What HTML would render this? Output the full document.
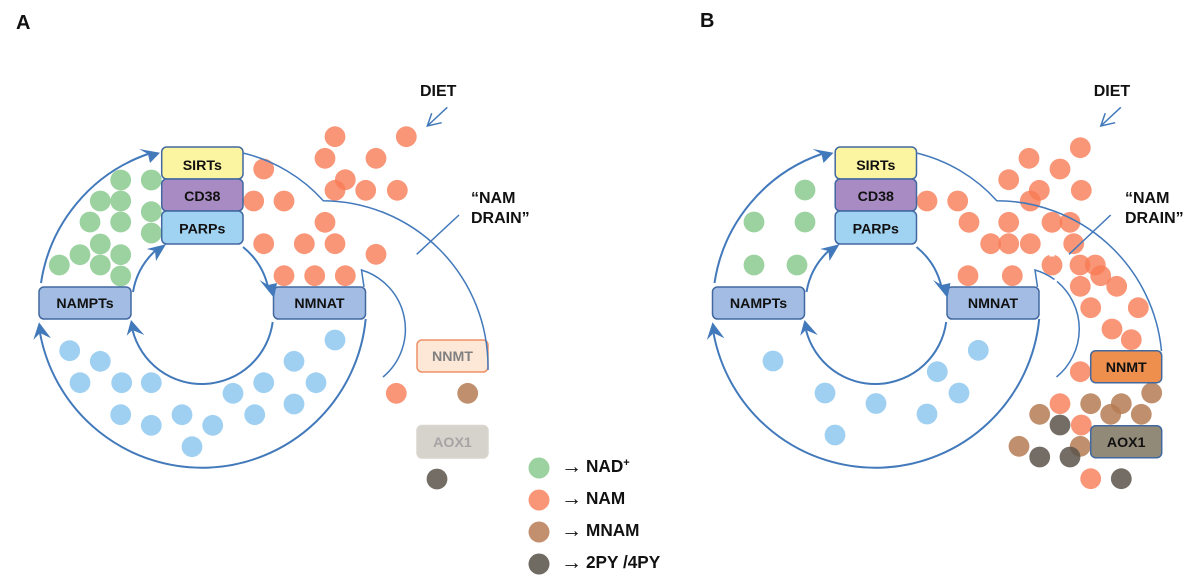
<!DOCTYPE html>
<html lang="en">
<head>
<meta charset="utf-8">
<title>NAM drain diagram</title>
<style>
html,body{margin:0;padding:0;background:#fff;}
svg{display:block;filter:blur(0.35px);}
text{font-family:"Liberation Sans",sans-serif;font-weight:bold;fill:#111;}
.box{font-size:14.2px;text-anchor:middle;}
.lbl{font-size:16px;}
.leg{font-size:17.2px;}
.arr{font-size:21px;}
.main{fill:none;stroke:#4279bb;stroke-width:2;}
.thin{fill:none;stroke:#4279bb;stroke-width:1.5;}
.head{fill:#4279bb;stroke:none;}
.rect{stroke:#41689f;stroke-width:1.5;}
.g circle{fill:#9bd2a0;}
.o circle{fill:#f87c55;opacity:.8;}
.b circle{fill:#9fd0f2;}
.m circle{fill:#b57d55;opacity:.85;}
.k circle{fill:#5a544a;opacity:.85;}
</style>
</head>
<body>
<svg width="1200" height="586" viewBox="0 0 1200 586" xmlns="http://www.w3.org/2000/svg">
<rect width="1200" height="586" fill="#fff"/>
<text x="16" y="29" style="font-size:20px">A</text>
<text x="700" y="27" style="font-size:20px">B</text>

<!-- PANEL A dots -->
<g class="g">
<circle cx="120.7" cy="180" r="10.4"/><circle cx="151.3" cy="180" r="10.4"/><circle cx="100.3" cy="201" r="10.4"/><circle cx="120.7" cy="201" r="10.4"/><circle cx="151.3" cy="211.7" r="10.4"/><circle cx="90" cy="222" r="10.4"/><circle cx="120.7" cy="222" r="10.4"/><circle cx="151.3" cy="233" r="10.4"/><circle cx="100.3" cy="244" r="10.4"/><circle cx="80" cy="254.7" r="10.4"/><circle cx="120.7" cy="254.7" r="10.4"/><circle cx="59.3" cy="265" r="10.4"/><circle cx="100.3" cy="265" r="10.4"/><circle cx="120.7" cy="276" r="10.4"/>
</g>
<g class="o">
<circle cx="335" cy="136.7" r="10.4"/><circle cx="406.3" cy="136.7" r="10.4"/><circle cx="325" cy="158.3" r="10.4"/><circle cx="376" cy="158.3" r="10.4"/><circle cx="345.3" cy="179.7" r="10.4"/><circle cx="335" cy="190.3" r="10.4"/><circle cx="365.7" cy="190.3" r="10.4"/><circle cx="397.3" cy="190.3" r="10.4"/><circle cx="263.7" cy="169" r="10.4"/><circle cx="253.7" cy="201" r="10.4"/><circle cx="284" cy="201" r="10.4"/><circle cx="325" cy="222.3" r="10.4"/><circle cx="263.7" cy="243.7" r="10.4"/><circle cx="304.3" cy="243.7" r="10.4"/><circle cx="335" cy="243.7" r="10.4"/><circle cx="376" cy="254.3" r="10.4"/><circle cx="284" cy="275.7" r="10.4"/><circle cx="314.7" cy="275.7" r="10.4"/><circle cx="345.3" cy="275.7" r="10.4"/><circle cx="396.3" cy="393.3" r="10.4"/>
</g>
<g class="b">
<circle cx="69.7" cy="350.7" r="10.4"/><circle cx="100.3" cy="361.3" r="10.4"/><circle cx="80" cy="382.7" r="10.4"/><circle cx="121.7" cy="382.7" r="10.4"/><circle cx="151.3" cy="382.7" r="10.4"/><circle cx="120.7" cy="414.7" r="10.4"/><circle cx="151.3" cy="425.3" r="10.4"/><circle cx="182" cy="414.7" r="10.4"/><circle cx="212.7" cy="425.3" r="10.4"/><circle cx="192" cy="446.7" r="10.4"/><circle cx="233" cy="393.3" r="10.4"/><circle cx="263.7" cy="382.7" r="10.4"/><circle cx="254.7" cy="414.7" r="10.4"/><circle cx="294" cy="361.3" r="10.4"/><circle cx="316" cy="382.7" r="10.4"/><circle cx="294" cy="404" r="10.4"/><circle cx="335" cy="340" r="10.4"/>
</g>
<g class="m"><circle cx="467.7" cy="393.3" r="10.4"/></g>
<g class="k"><circle cx="437" cy="479" r="10.4"/></g>

<!-- PANEL B dots -->
<g class="g">
<circle cx="805" cy="190" r="10.4"/><circle cx="805" cy="222" r="10.4"/><circle cx="754" cy="222" r="10.4"/><circle cx="754" cy="265" r="10.4"/><circle cx="797" cy="265" r="10.4"/>
</g>
<g class="b">
<circle cx="978.3" cy="350.3" r="10.4"/><circle cx="937.3" cy="371.7" r="10.4"/><circle cx="959" cy="393" r="10.4"/><circle cx="773" cy="361" r="10.4"/><circle cx="825" cy="393" r="10.4"/><circle cx="876" cy="403.5" r="10.4"/><circle cx="927" cy="414" r="10.4"/><circle cx="835" cy="435" r="10.4"/>
</g>
<g class="o">
<circle cx="1080.3" cy="147.7" r="10.4"/><circle cx="1029" cy="158.3" r="10.4"/><circle cx="1060" cy="169" r="10.4"/><circle cx="1008.7" cy="179.7" r="10.4"/><circle cx="1039.3" cy="190.3" r="10.4"/><circle cx="1081.3" cy="190.3" r="10.4"/><circle cx="1030.3" cy="201" r="10.4"/><circle cx="927" cy="201" r="10.4"/><circle cx="957.7" cy="201" r="10.4"/><circle cx="969" cy="222.3" r="10.4"/><circle cx="1008.7" cy="222.3" r="10.4"/><circle cx="1052" cy="222.3" r="10.4"/><circle cx="1070" cy="222.3" r="10.4"/><circle cx="990.7" cy="243.7" r="10.4"/><circle cx="1008.7" cy="243.7" r="10.4"/><circle cx="1030.3" cy="243.7" r="10.4"/><circle cx="1073.7" cy="243.7" r="10.4"/><circle cx="1052" cy="265" r="10.4"/><circle cx="1080" cy="265" r="10.4"/><circle cx="1095.3" cy="265" r="10.4"/><circle cx="1100.7" cy="275.7" r="10.4"/><circle cx="968" cy="275.7" r="10.4"/><circle cx="1012.3" cy="275.7" r="10.4"/><circle cx="1080.3" cy="286.3" r="10.4"/><circle cx="1116.7" cy="286.3" r="10.4"/><circle cx="1090.7" cy="307.7" r="10.4"/><circle cx="1138.3" cy="307.7" r="10.4"/><circle cx="1112" cy="329" r="10.4"/><circle cx="1131.3" cy="339.7" r="10.4"/><circle cx="1080.3" cy="371.7" r="10.4"/><circle cx="1060" cy="403.7" r="10.4"/><circle cx="1081.3" cy="425" r="10.4"/><circle cx="1090.7" cy="478.7" r="10.4"/>
</g>
<g class="m">
<circle cx="1151.7" cy="393" r="10.4"/><circle cx="1090.7" cy="403.7" r="10.4"/><circle cx="1121.3" cy="403.7" r="10.4"/><circle cx="1110.7" cy="414.3" r="10.4"/><circle cx="1141.3" cy="414.3" r="10.4"/><circle cx="1039.7" cy="414.3" r="10.4"/><circle cx="1080.3" cy="446.3" r="10.4"/><circle cx="1019" cy="446.3" r="10.4"/>
</g>
<g class="k">
<circle cx="1060" cy="425" r="10.4"/><circle cx="1039.7" cy="457" r="10.4"/><circle cx="1070" cy="457" r="10.4"/><circle cx="1121.3" cy="478.7" r="10.4"/>
</g>

<!-- PANEL A structure -->
<g>
<rect class="rect" x="161.7" y="147" width="81.3" height="32" rx="5" fill="#fbf4a0"/>
<rect class="rect" x="161.7" y="179" width="81.3" height="32" rx="5" fill="#a78bc2"/>
<rect class="rect" x="161.7" y="211" width="81.3" height="33" rx="5" fill="#a0d2f1"/>
<rect class="rect" x="39" y="287" width="92" height="32" rx="5" fill="#a2bce3"/>
<rect class="rect" x="273.5" y="287" width="92" height="32" rx="5" fill="#a2bce3"/>
<rect x="417" y="340" width="71" height="32" rx="5" fill="#fde8d8" stroke="#ee9068" stroke-width="1.5"/>
<rect x="417" y="425.5" width="71" height="32.5" rx="5" fill="#d6d2cc" stroke="#dad6cf" stroke-width="1.5"/>
<path class="main" d="M41 283 A162 162 0 0 1 148 154"/>
<path class="main" d="M133 292 A72 72 0 0 1 155 251"/>
<path class="main" d="M243 247 A72 72 0 0 1 268 287"/>
<path class="main" d="M365.7 319 A164.6 164.6 0 0 1 40 333"/>
<path class="main" d="M272.7 322 A71.5 71.5 0 0 1 132.500 330"/>
<path class="head" d="M160 152.7 L139 149 L148 154 L150 163 Z"/>
<path class="head" d="M166 244.3 L146.7 249 L155 251 L156 261 Z"/>
<path class="head" d="M274 298 L259.500 280 L268 285 L277 283 Z"/>
<path class="head" d="M39 322.3 L33.3 340 L40 333 L51 338.3 Z"/>
<path class="head" d="M131 320 L126.7 335.7 L132.3 330 L144.3 335 Z"/>
<path class="thin" d="M243 153 A158 158 0 0 1 323.3 200.7 A166 166 0 0 1 488 367 L488 370"/>
<path class="thin" d="M364 287 L361.5 270 A62 62 0 0 1 383 377"/>
<path class="thin" d="M459 215 L416.7 254.3"/>
<path class="thin" d="M447.3 107.3 L427.3 126 M431.7 113.3 L427.3 126 L441.7 122.7"/>
<text class="box" x="202.3" y="170">SIRTs</text>
<text class="box" x="202.3" y="201">CD38</text>
<text class="box" x="202.3" y="233.500">PARPs</text>
<text class="box" x="85" y="308">NAMPTs</text>
<text class="box" x="319.5" y="308">NMNAT</text>
<text class="box" x="452.500" y="361" style="fill:#808080">NNMT</text>
<text class="box" x="452.500" y="447" style="fill:#a5a5a5">AOX1</text>
<text class="lbl" x="420" y="96">DIET</text>
<text class="lbl" x="471" y="203">“NAM</text>
<text class="lbl" x="471" y="223">DRAIN”</text>
</g>

<!-- PANEL B structure -->
<g transform="translate(673.5 0)">
<rect class="rect" x="161.7" y="147" width="81.3" height="32" rx="5" fill="#fbf4a0"/>
<rect class="rect" x="161.7" y="179" width="81.3" height="32" rx="5" fill="#a78bc2"/>
<rect class="rect" x="161.7" y="211" width="81.3" height="33" rx="5" fill="#a0d2f1"/>
<rect class="rect" x="39" y="287" width="92" height="32" rx="5" fill="#a2bce3"/>
<rect class="rect" x="273.5" y="287" width="92" height="32" rx="5" fill="#a2bce3"/>
<rect class="rect" x="417.200" y="350.700" width="71" height="32" rx="5" fill="#ee8f4e"/>
<rect class="rect" x="417.200" y="425.700" width="71" height="32" rx="5" fill="#928a78"/>
<path class="main" d="M41 283 A162 162 0 0 1 148 154"/>
<path class="main" d="M133 292 A72 72 0 0 1 155 251"/>
<path class="main" d="M243 247 A72 72 0 0 1 268 287"/>
<path class="main" d="M365.7 319 A164.6 164.6 0 0 1 40 333"/>
<path class="main" d="M272.7 322 A71.5 71.5 0 0 1 132.500 330"/>
<path class="head" d="M160 152.7 L139 149 L148 154 L150 163 Z"/>
<path class="head" d="M166 244.3 L146.7 249 L155 251 L156 261 Z"/>
<path class="head" d="M274 298 L259.500 280 L268 285 L277 283 Z"/>
<path class="head" d="M39 322.3 L33.3 340 L40 333 L51 338.3 Z"/>
<path class="head" d="M131 320 L126.7 335.7 L132.3 330 L144.3 335 Z"/>
<path class="thin" d="M243 153 A158 158 0 0 1 323.3 200.7 A166 166 0 0 1 488 351"/>
<path class="thin" d="M364 287 L361.5 270 A62 62 0 0 1 381 279.5"/>
<path class="thin" d="M383.5 281.4 A62 62 0 0 1 383 377"/>
<path class="thin" d="M447.3 107.3 L427.3 126 M431.7 113.3 L427.3 126 L441.7 122.7"/>
<text class="box" x="202.3" y="170">SIRTs</text>
<text class="box" x="202.3" y="201">CD38</text>
<text class="box" x="202.3" y="233.500">PARPs</text>
<text class="box" x="85" y="308">NAMPTs</text>
<text class="box" x="319.5" y="308">NMNAT</text>
<text class="box" x="452.700" y="372">NNMT</text>
<text class="box" x="452.700" y="447">AOX1</text>
<text class="lbl" x="420.200" y="96">DIET</text>
<text class="lbl" x="451.500" y="203">“NAM</text>
<text class="lbl" x="451.500" y="223">DRAIN”</text>
</g>
<path class="thin" d="M1110.7 215 L1069 254.3"/>
<path d="M1049.5 255.5 L1054.500 255.5" stroke="#fff" stroke-width="2" fill="none"/>

<!-- LEGEND -->
<circle cx="539" cy="468" r="10.5" fill="#9bd2a0"/>
<circle cx="539" cy="500" r="10.5" fill="#f99677"/>
<circle cx="539" cy="532" r="10.5" fill="#c2906f"/>
<circle cx="539" cy="564" r="10.5" fill="#6f6a62"/>
<text class="arr" x="561" y="473">→</text>
<text class="arr" x="561" y="505">→</text>
<text class="arr" x="561" y="537">→</text>
<text class="arr" x="561" y="569">→</text>
<text class="leg" x="586" y="472">NAD<tspan dy="-6" style="font-size:11px">+</tspan></text>
<text class="leg" x="586" y="504">NAM</text>
<text class="leg" x="586" y="536">MNAM</text>
<text class="leg" x="586" y="568">2PY /4PY</text>
</svg>
</body>
</html>
